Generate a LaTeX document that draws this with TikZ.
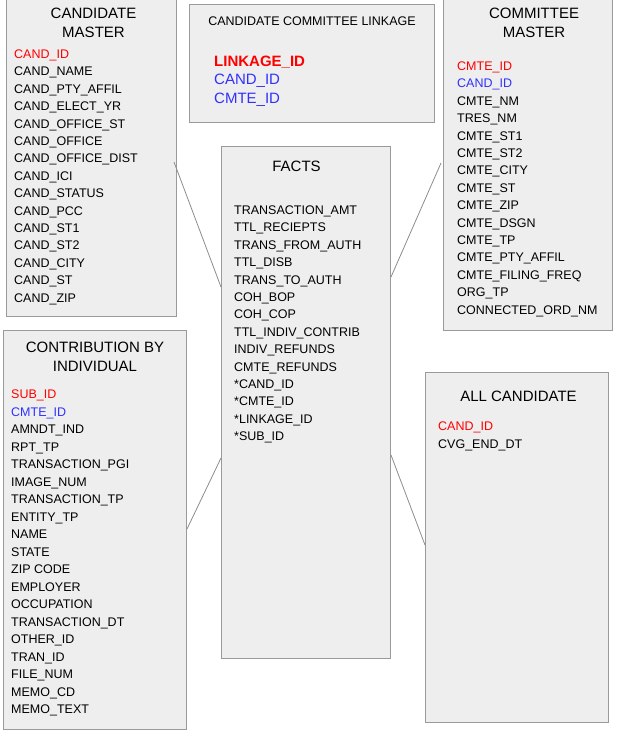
\documentclass[tikz,border=0pt]{standalone}
\usepackage{fontspec}
\setmainfont{Liberation Sans}
\usetikzlibrary{positioning}
\definecolor{tblfill}{HTML}{EEEEEE}
\definecolor{tblborder}{HTML}{9A9A9A}
\definecolor{linkgray}{HTML}{8C8C8C}
\definecolor{pkred}{HTML}{FF0000}
\definecolor{fkblue}{HTML}{3030FF}
\newcommand{\pkey}[1]{\textcolor{pkred}{#1}}
\newcommand{\fkey}[1]{\textcolor{fkblue}{#1}}
\tikzset{
  tbl/.style={draw=tblborder,fill=tblfill,line width=1pt,inner sep=0pt,
    anchor=north west},
  tbltitle/.style={font=\fontsize{15}{19}\selectfont,align=center,
    inner sep=0pt},
  tblfields/.style={font=\fontsize{12.5}{17.4}\selectfont,align=left,
    inner sep=0pt},
  relline/.style={draw=linkgray,line width=0.8pt},
}
\begin{document}
\begin{tikzpicture}[x=1pt,y=-1pt]
  \useasboundingbox (0,0) rectangle (617,743);
  % tables
  \node[tbl,minimum width=170pt,minimum height=321pt] (cand) at (6,-5) {};
  \node[tbl,minimum width=245pt,minimum height=118pt] (link) at (189,4) {};
  \node[tbl,minimum width=169pt,minimum height=335pt] (cmte) at (443,-5) {};
  \node[tbl,minimum width=169pt,minimum height=512pt] (facts) at (221,146) {};
  \node[tbl,minimum width=183pt,minimum height=399pt] (contrib) at (3,330) {};
  \node[tbl,minimum width=183pt,minimum height=350pt] (allcand) at (425,372) {};
  % titles
  \node[tbltitle,below=12.6pt of cand.north,xshift=2pt] (candT)
    {CANDIDATE\\MASTER};
  \node[tbltitle,font=\fontsize{12.5}{15}\selectfont,below=12.5pt of link.north]
    (linkT) {CANDIDATE COMMITTEE LINKAGE};
  \node[tbltitle,below=12.6pt of cmte.north,xshift=6pt] (cmteT)
    {COMMITTEE\\MASTER};
  \node[tbltitle,below=14.6pt of facts.north,xshift=-9.5pt] (factsT) {FACTS};
  \node[tbltitle,below=12.3pt of contrib.north] (contribT)
    {CONTRIBUTION BY\\INDIVIDUAL};
  \node[tbltitle,below=19.3pt of allcand.north,xshift=1.5pt] (allcandT)
    {ALL CANDIDATE};
  % column lists
  \node[tblfields,below right=54.5pt and 8pt of cand.north west] (candF)
    {\pkey{CAND\_ID}\\CAND\_NAME\\CAND\_PTY\_AFFIL\\CAND\_ELECT\_YR\\
     CAND\_OFFICE\_ST\\CAND\_OFFICE\\CAND\_OFFICE\_DIST\\CAND\_ICI\\
     CAND\_STATUS\\CAND\_PCC\\CAND\_ST1\\CAND\_ST2\\CAND\_CITY\\CAND\_ST\\
     CAND\_ZIP};
  \node[tblfields,font=\fontsize{15}{18.5}\selectfont,
    below right=51.6pt and 25pt of link.north west] (linkF)
    {\pkey{\bfseries LINKAGE\_ID}\\\fkey{CAND\_ID}\\\fkey{CMTE\_ID}};
  \node[tblfields,below right=66.5pt and 14pt of cmte.north west] (cmteF)
    {\pkey{CMTE\_ID}\\\fkey{CAND\_ID}\\CMTE\_NM\\TRES\_NM\\CMTE\_ST1\\
     CMTE\_ST2\\CMTE\_CITY\\CMTE\_ST\\CMTE\_ZIP\\CMTE\_DSGN\\CMTE\_TP\\
     CMTE\_PTY\_AFFIL\\CMTE\_FILING\_FREQ\\ORG\_TP\\CONNECTED\_ORD\_NM};
  \node[tblfields,below right=59.5pt and 13pt of facts.north west] (factsF)
    {TRANSACTION\_AMT\\TTL\_RECIEPTS\\TRANS\_FROM\_AUTH\\TTL\_DISB\\
     TRANS\_TO\_AUTH\\COH\_BOP\\COH\_COP\\TTL\_INDIV\_CONTRIB\\
     INDIV\_REFUNDS\\CMTE\_REFUNDS\\*CAND\_ID\\*CMTE\_ID\\*LINKAGE\_ID\\
     *SUB\_ID};
  \node[tblfields,font=\fontsize{12.5}{17.5}\selectfont,
    below right=59.8pt and 8pt of contrib.north west] (contribF)
    {\pkey{SUB\_ID}\\\fkey{CMTE\_ID}\\AMNDT\_IND\\RPT\_TP\\
     TRANSACTION\_PGI\\IMAGE\_NUM\\TRANSACTION\_TP\\ENTITY\_TP\\NAME\\
     STATE\\ZIP CODE\\EMPLOYER\\OCCUPATION\\TRANSACTION\_DT\\OTHER\_ID\\
     TRAN\_ID\\FILE\_NUM\\MEMO\_CD\\MEMO\_TEXT};
  \node[tblfields,font=\fontsize{12.5}{18.3}\selectfont,
    below right=49.5pt and 13pt of allcand.north west] (allcandF)
    {\pkey{CAND\_ID}\\CVG\_END\_DT};
  % relations to the fact table
  \draw[relline] ([xshift=-3pt,yshift=-167pt]cand.north east)
    -- ([yshift=-141pt]facts.north west);
  \draw[relline] ([xshift=-2pt,yshift=-168pt]cmte.north west)
    -- ([yshift=-131pt]facts.north east);
  \draw[relline] ([yshift=-199pt]contrib.north east)
    -- ([yshift=-312pt]facts.north west);
  \draw[relline] ([yshift=-309pt]facts.north east)
    -- ([yshift=-173pt]allcand.north west);
\end{tikzpicture}
\end{document}
